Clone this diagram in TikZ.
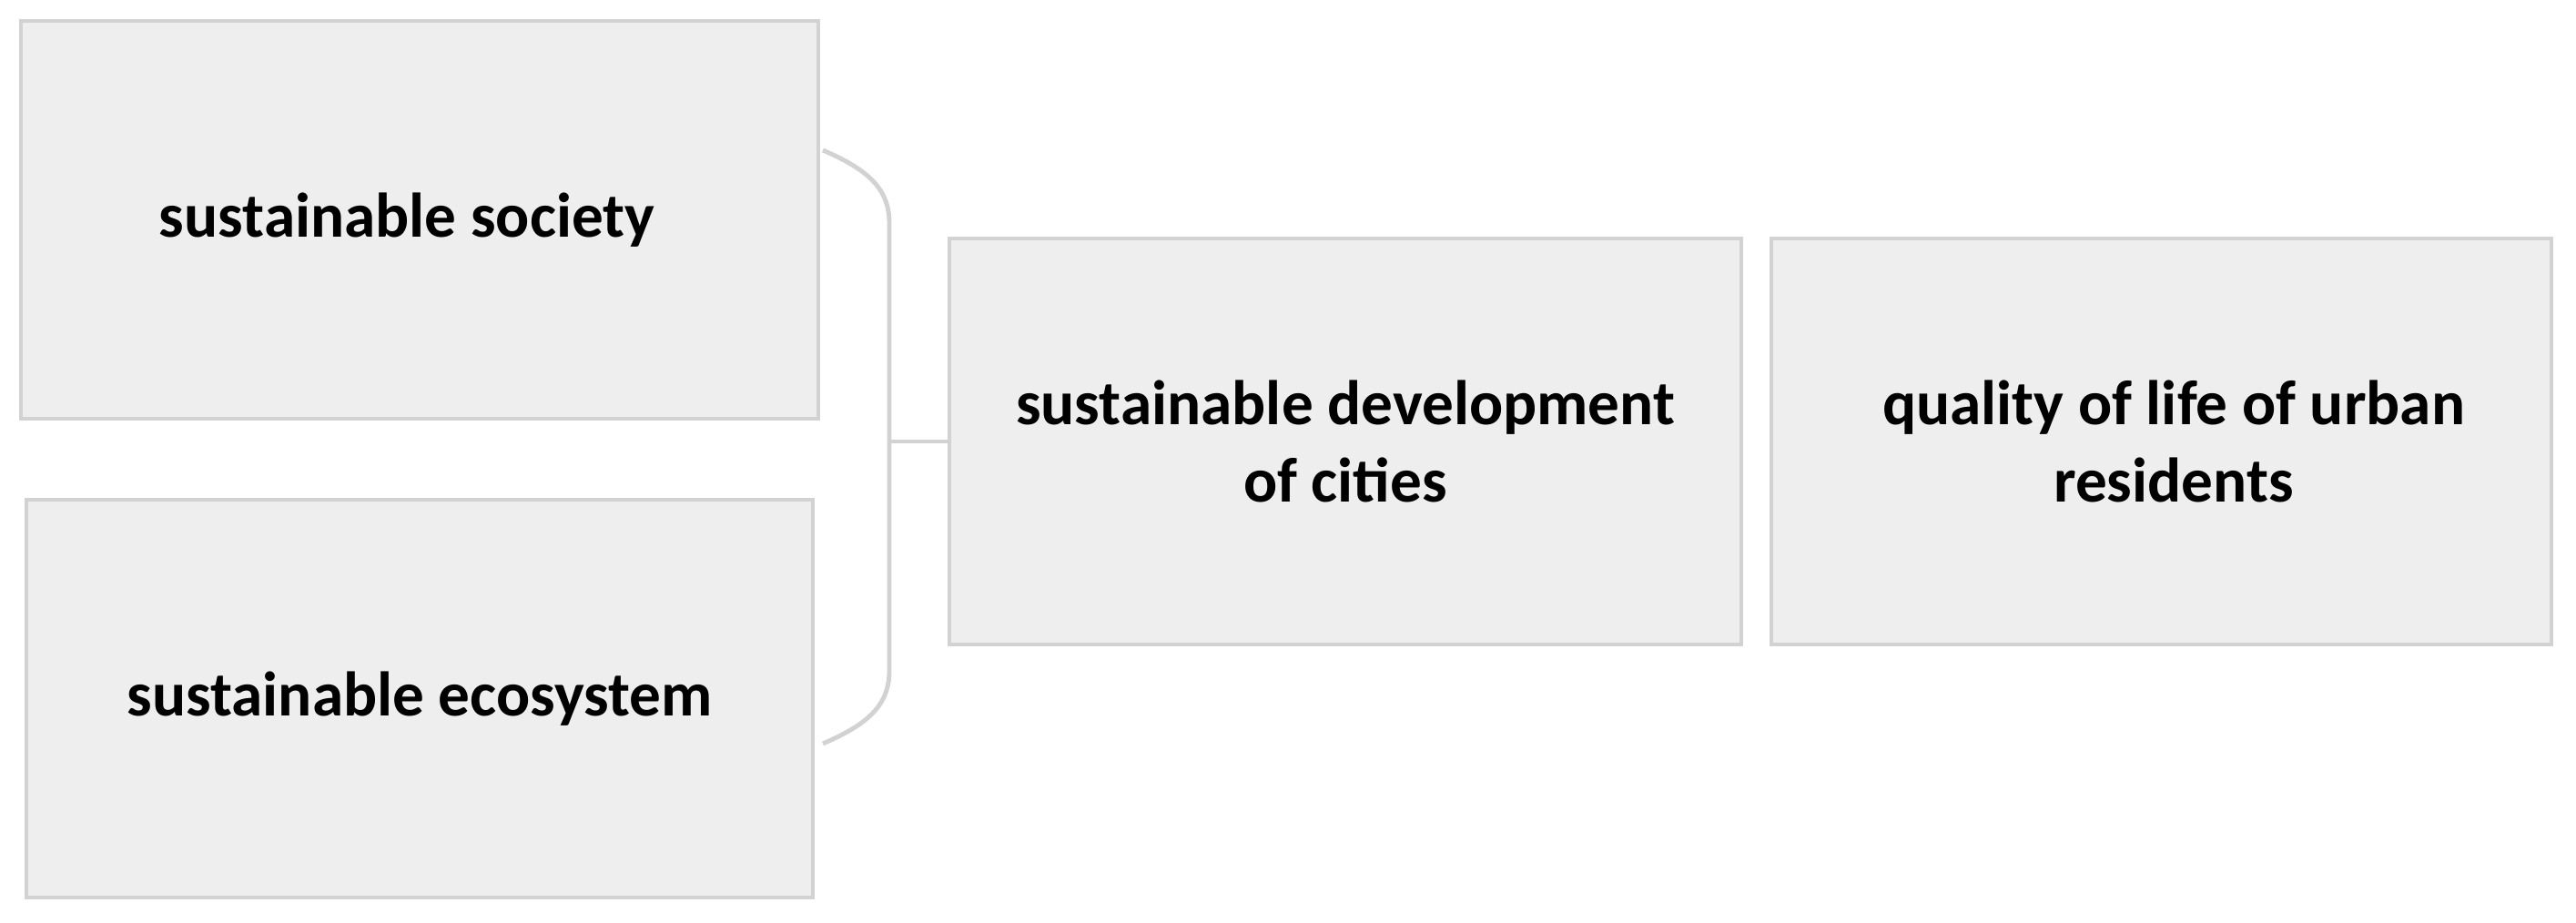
\documentclass[tikz,border=0pt]{standalone}
\usepackage{fontspec}
\setmainfont{Carlito}
\usepackage{tikz}
\usetikzlibrary{arrows,positioning}
\usepackage{xcolor}
\definecolor{boxfill}{HTML}{EEEEEE}
\definecolor{boxline}{HTML}{D2D2D2}

\begin{document}
\begin{tikzpicture}[semithick,font=\fontsize{19.7}{24}\selectfont\bfseries]
  \tikzstyle{goal}=[rectangle,draw=boxline,fill=boxfill,line width=1.2pt,align=center,inner sep=0pt]
  \tikzstyle{brace}=[draw=boxline,line width=1.4pt]

  \useasboundingbox (0,0) rectangle (28.30,-10.14);

  \node[goal,minimum width=8.76cm,minimum height=4.37cm] (society)   at (4.61,-2.415)  {sustainable society\hspace{0.28cm}};
  \node[goal,minimum width=8.64cm,minimum height=4.37cm] (ecosystem) at (4.61,-7.675)  {sustainable ecosystem};
  \node[goal,minimum width=8.70cm,minimum height=4.46cm] (cities)    at (14.78,-4.85)  {sustainable development\\of cities};
  \node[goal,minimum width=8.57cm,minimum height=4.46cm] (quality)   at (23.745,-4.85) {\hspace{0.27cm}quality of life of urban\\\hspace{0.27cm}residents};

  \coordinate (top end) at (9.04,-1.65);
  \coordinate (bottom end) at (9.04,-8.17);
  \coordinate (joint) at (9.77,-4.85);

  \draw[brace] (top end) .. controls (9.50,-1.85) and (9.77,-2.05) .. (9.77,-2.45)
               -- (9.77,-7.37) .. controls (9.77,-7.77) and (9.50,-7.97) .. (bottom end);
  \draw[brace] (joint) -- (cities.west);
\end{tikzpicture}
\end{document}
